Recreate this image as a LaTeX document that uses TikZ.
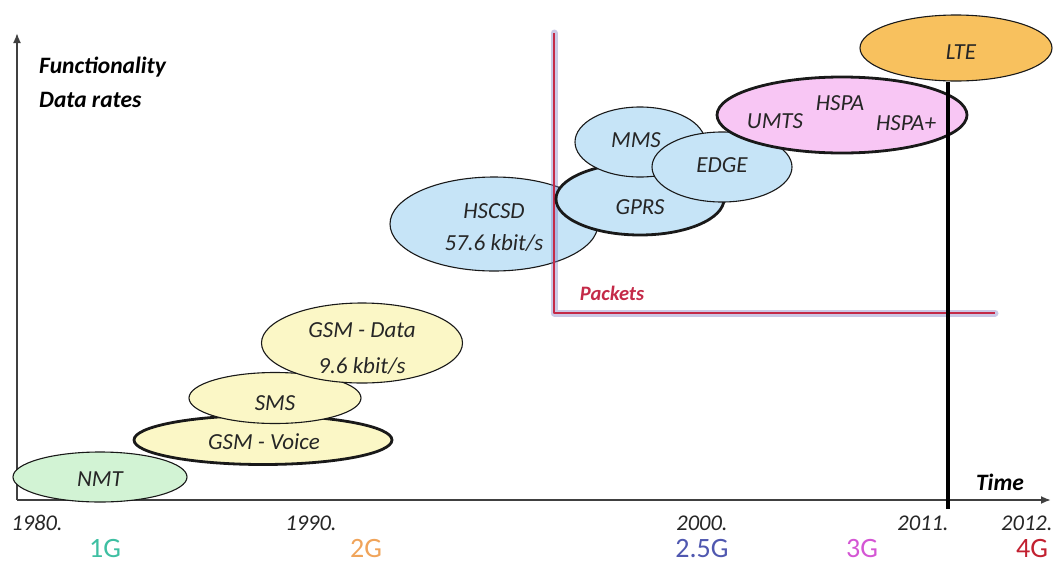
\documentclass[tikz,border=0pt]{standalone}
\usepackage{fontspec}
\setmainfont{Carlito}
\usetikzlibrary{shapes.geometric,arrows.meta}

\definecolor{yel}{HTML}{FBF7C6}
\definecolor{blu}{HTML}{C6E4F7}
\definecolor{grn}{HTML}{D2F3D4}
\definecolor{pnk}{HTML}{F8C6F4}
\definecolor{org}{HTML}{F8C15E}
\definecolor{axisgray}{HTML}{404040}
\definecolor{pktred}{HTML}{C42A48}
\definecolor{pktglow}{HTML}{7C78C0}
\definecolor{g1}{HTML}{3EBFA2}
\definecolor{g2}{HTML}{F0A45A}
\definecolor{g25}{HTML}{5058B0}
\definecolor{g3}{HTML}{D456D4}
\definecolor{g4}{HTML}{C22030}

\tikzset{
  tech/.style={ellipse, draw=black!90, line width=1.1pt, inner sep=0pt},
  core/.style={tech, line width=2.8pt},
  lbl/.style={font=\fontsize{23}{27}\selectfont\itshape, text=black!85, inner sep=0pt},
  axlbl/.style={font=\fontsize{23.5}{27}\selectfont\bfseries\itshape, inner sep=0pt},
  year/.style={font=\fontsize{22.5}{26}\selectfont\itshape, text=black!85, inner sep=0pt},
  gen/.style={font=\fontsize{28}{31}\selectfont, inner sep=0pt},
  axis/.style={draw=axisgray, line width=1.8pt, -{Latex[length=10pt,width=8pt]}},
}

\begin{document}
\begin{tikzpicture}[x=1pt,y=-1pt]
\useasboundingbox (0,0) rectangle (1053,563);

% axes
\coordinate (O) at (17,500);
\coordinate (ytop) at (17,33);
\coordinate (xend) at (1051,500);
\draw[axis] (O) -- (ytop);
\draw[axis] (O) -- (xend);

\node[axlbl, anchor=west] (func) at (39,67) {Functionality};
\node[axlbl, anchor=west] (rates) at (39,100) {Data rates};
\node[axlbl] (time) at (1000,482) {Time};

% 1G / 2G circuit-switched services
\node[tech, fill=grn, minimum width=174pt, minimum height=50pt] (nmt) at (100,477) {};
\node[core, fill=yel, minimum width=258pt, minimum height=49pt] (voice) at (263,440) {};
\node[tech, fill=yel, minimum width=172pt, minimum height=51pt] (sms) at (275,398) {};
\node[tech, fill=yel, minimum width=201pt, minimum height=80pt] (gdata) at (362,343) {};
\node[lbl] at (nmt) [yshift=-2pt] {NMT};
\node[lbl] at (264,442) {GSM - Voice};
\node[lbl] at (275,403) {SMS};
\node[lbl] at (362,330) {GSM - Data};
\node[lbl] at (362,366) {9.6 kbit/s};

% HSCSD
\node[tech, fill=blu, minimum width=208pt, minimum height=94pt] (hscsd) at (494,224) {};
\node[lbl] at (494,211) {HSCSD};
\node[lbl] at (494,243) {57.6 kbit/s};

% packet-switched region
\coordinate (ptop) at (554,33);
\coordinate (pcorner) at (554,313);
\coordinate (pend) at (995,313);
\draw[pktglow, opacity=0.4, line width=7pt, line cap=round, line join=round] (ptop) -- (pcorner) -- (pend);
\draw[pktred, line width=2.4pt, line join=round] (ptop) -- (pcorner) -- (pend);
\node[font=\fontsize{20.5}{24}\selectfont\bfseries\itshape, text=pktred, inner sep=0pt] (packets) at (612,293) {Packets};

% 2.5G services
\node[core, fill=blu, minimum width=168pt, minimum height=72pt] (gprs) at (640,199) {};
\node[tech, fill=blu, minimum width=130pt, minimum height=70pt] (mms) at (640,142) {};
\node[tech, fill=blu, minimum width=140pt, minimum height=70pt] (edge) at (722,167) {};
\node[lbl] at (636,140) {MMS};
\node[lbl] at (640,207) {GPRS};
\node[lbl] at (722,165) {EDGE};

% 3G / 4G
\node[core, fill=pnk, minimum width=250pt, minimum height=76pt] (umts) at (842,115) {};
\node[tech, fill=org, minimum width=192pt, minimum height=66pt] (lte) at (956,48) {};
\node[lbl] at (775,121) {UMTS};
\node[lbl] at (840,103) {HSPA};
\node[lbl] at (906,123) {HSPA+};
\node[lbl] at (961,52) {LTE};

% 2011 marker
\coordinate (mark) at (948,509);
\draw[black, line width=4.5pt] (lte.south -| mark) -- (mark);

% years
\node[year] (y1980) at (37,523) {1980.};
\node[year] (y1990) at (311,523) {1990.};
\node[year] (y2000) at (702,523) {2000.};
\node[year] (y2011) at (923,523) {2011.};
\node[year, anchor=west] (y2012) at (1001,523) {2012.};

% generations
\node[gen, text=g1] (gen1) at (105,549) {1G};
\node[gen, text=g2] (gen2) at (366,549) {2G};
\node[gen, text=g25] (gen25) at (702,549) {2.5G};
\node[gen, text=g3] (gen3) at (862,549) {3G};
\node[gen, text=g4] (gen4) at (1032,549) {4G};
\end{tikzpicture}
\end{document}
